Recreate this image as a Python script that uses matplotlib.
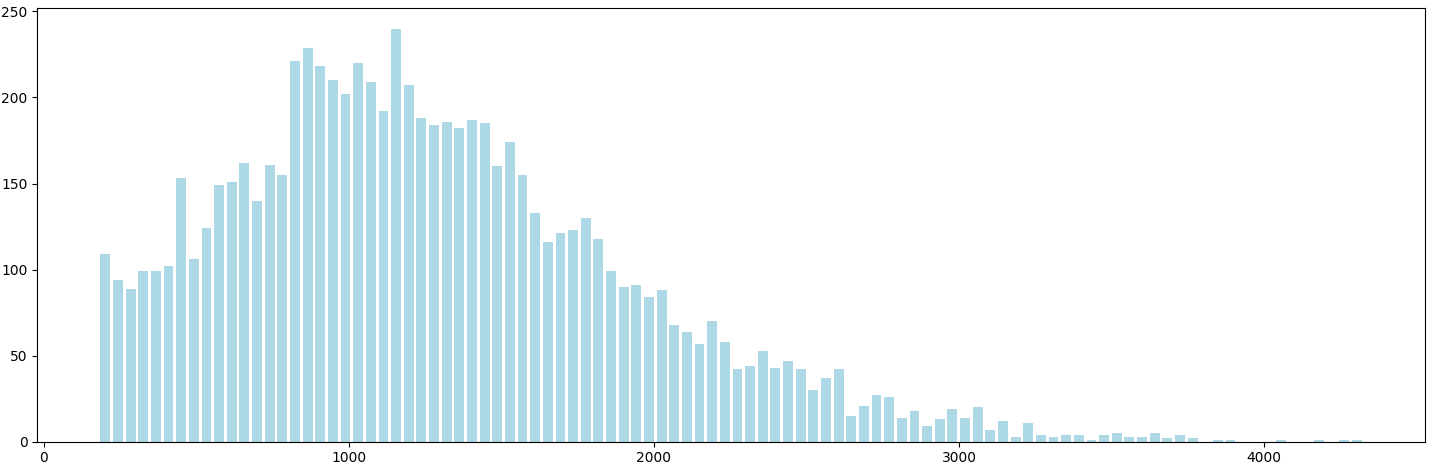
import numpy as np
import matplotlib
matplotlib.use('Agg')
import matplotlib.pyplot as plt

# histogram counts, 100 bins
counts = [109, 94, 89, 99, 99, 102, 153, 106, 124, 149,
          151, 162, 140, 161, 155, 221, 229, 218, 210, 202,
          220, 209, 192, 240, 207, 188, 184, 186, 182, 187,
          185, 160, 174, 155, 133, 116, 121, 123, 130, 118,
          99, 90, 91, 84, 88, 68, 64, 57, 70, 58,
          42, 44, 53, 43, 47, 42, 30, 37, 42, 15,
          21, 27, 26, 14, 18, 9, 13, 19, 14, 20,
          7, 12, 3, 11, 4, 3, 4, 4, 1, 4,
          5, 3, 3, 5, 2, 4, 2, 0, 1, 1,
          0, 0, 0, 1, 0, 0, 1, 0, 1, 1]
X_MIN = 181
X_MAX = 4325

edges = np.linspace(X_MIN, X_MAX, len(counts) + 1)
centers = (edges[:-1] + edges[1:]) / 2
width = edges[1] - edges[0]

fig, ax = plt.subplots(figsize=(14.35, 4.66), dpi=100)
ax.bar(centers, counts, width=width * 0.78, color='lightblue')
ax.set_ylim(0, 252)
plt.subplots_adjust(left=0.026, right=0.993, top=0.983, bottom=0.052)
plt.savefig('out.png')
